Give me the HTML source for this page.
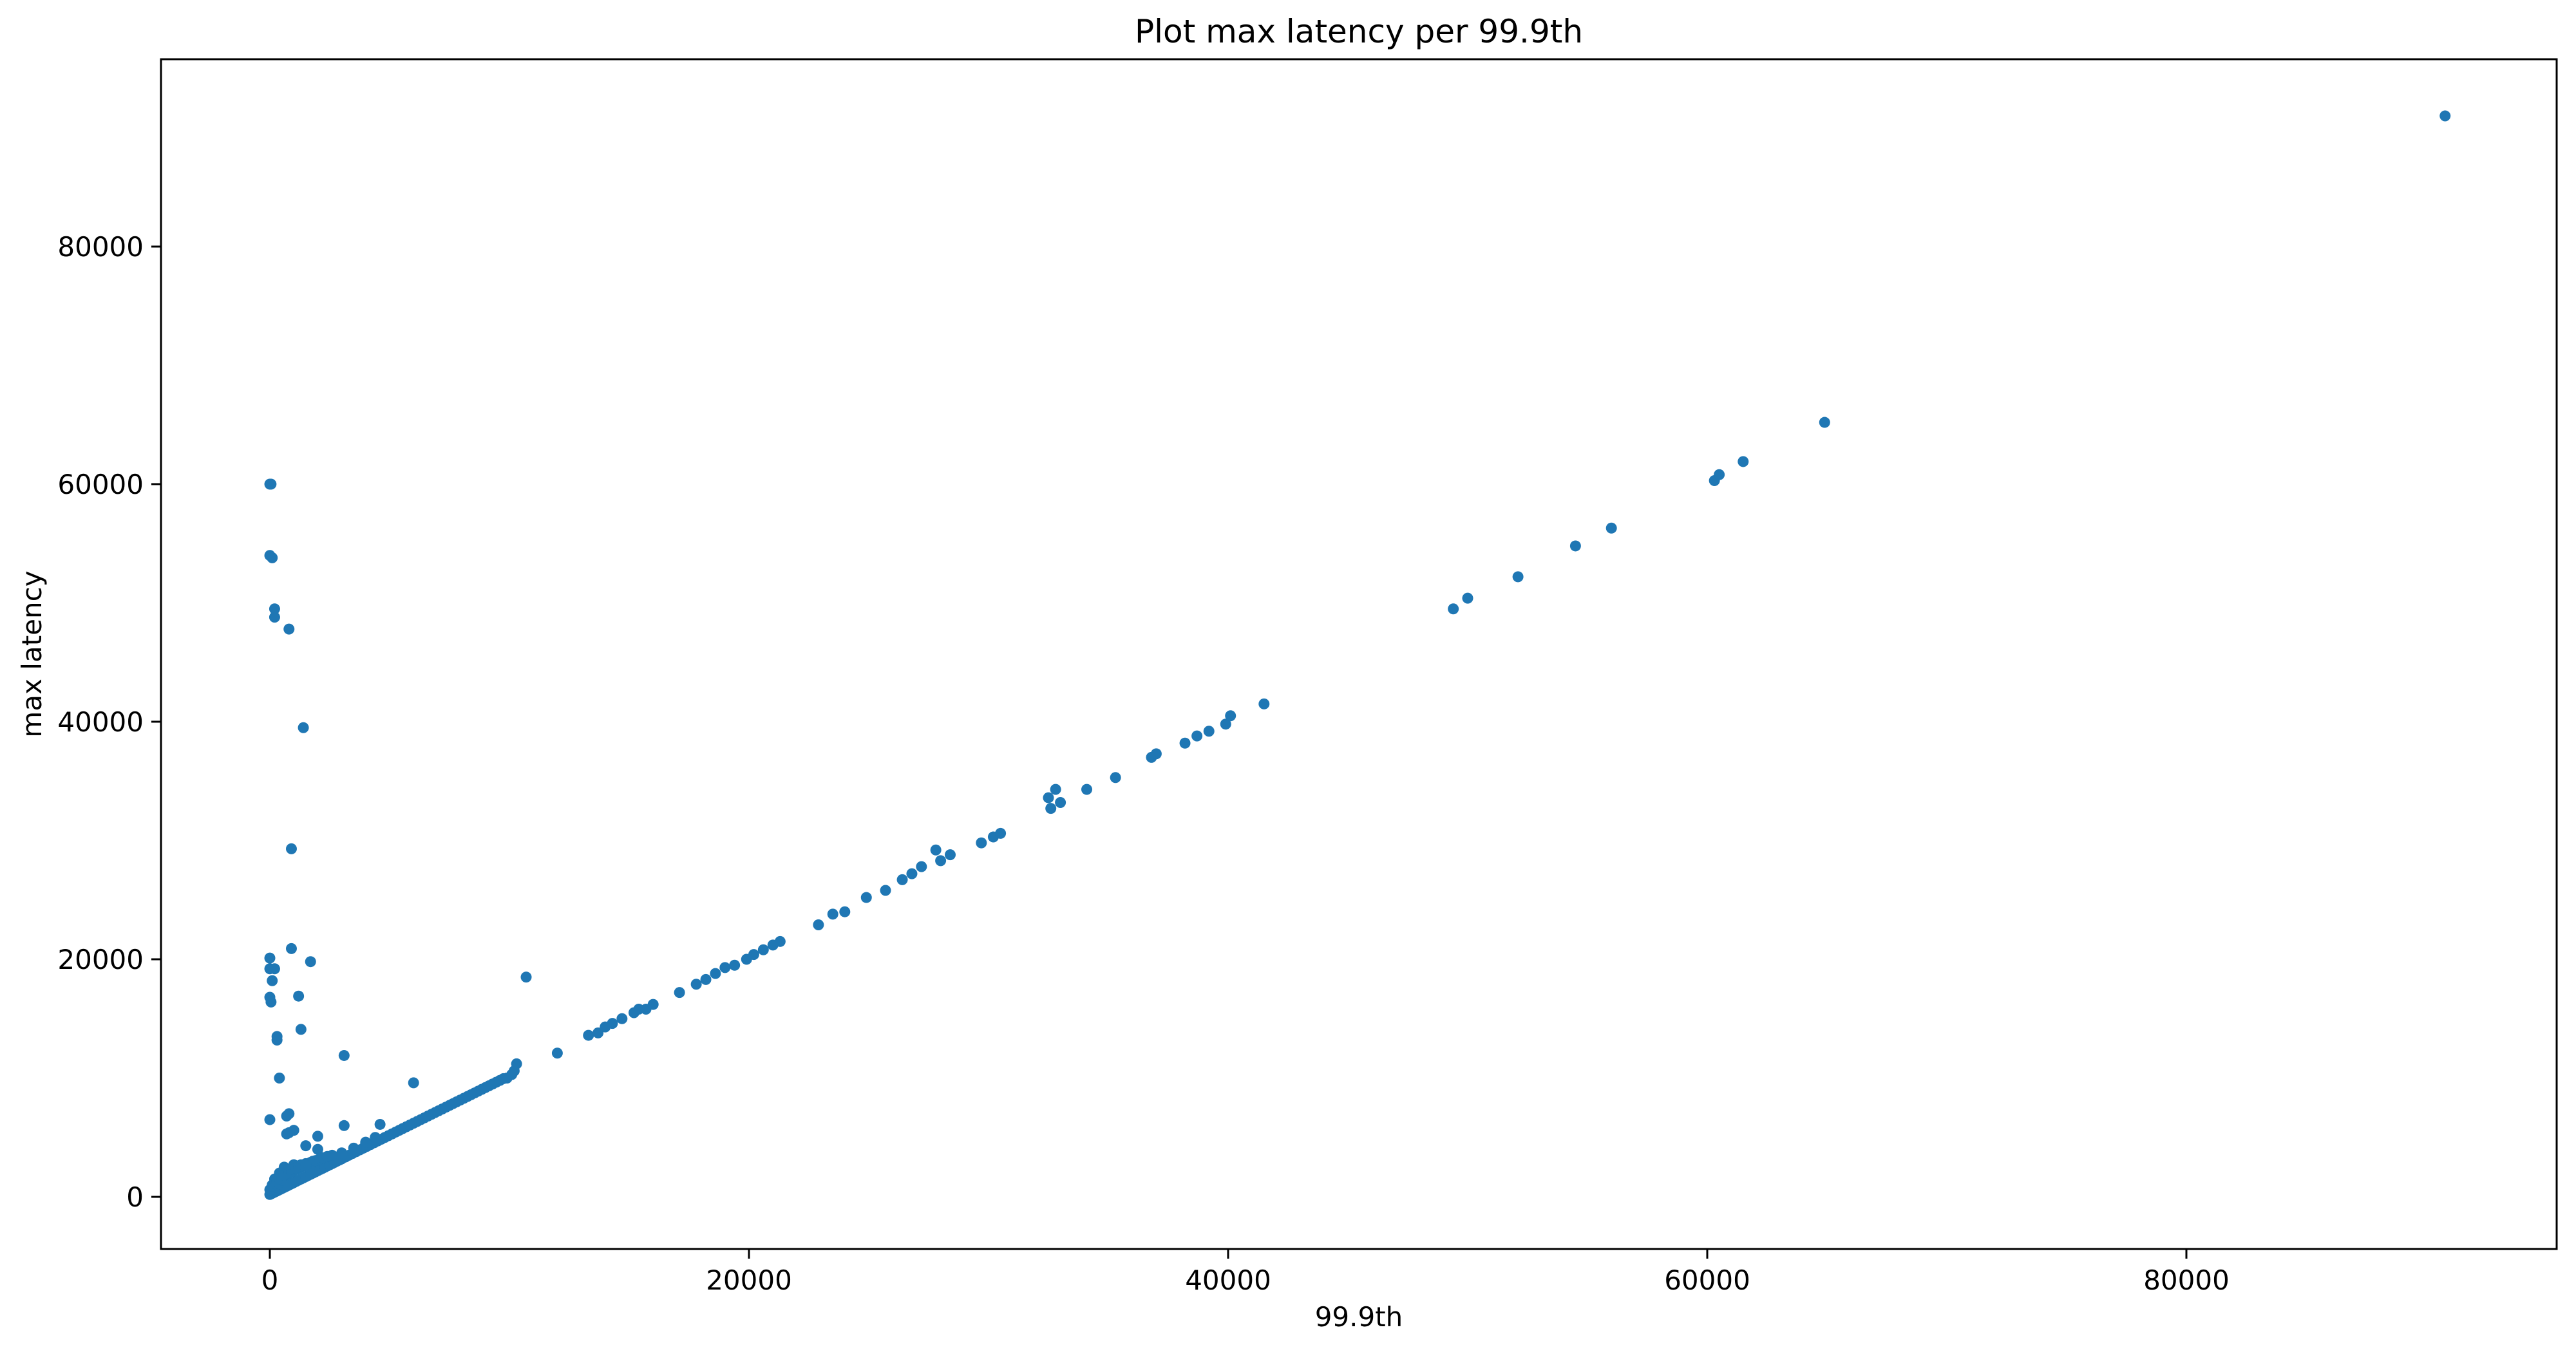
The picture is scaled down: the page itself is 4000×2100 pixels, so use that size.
<!DOCTYPE html>
<html><head><meta charset="utf-8"><style>
html,body{margin:0;padding:0;background:#fff;}
svg{display:block;font-family:"DejaVu Sans","Liberation Sans",sans-serif;}
</style></head><body>
<svg id="chart" width="4000" height="2100" viewBox="0 0 4000 2100" xmlns="http://www.w3.org/2000/svg">
<rect width="4000" height="2100" fill="#fff"/>
<text x="2110" y="66" font-size="50" text-anchor="middle">Plot max latency per 99.9th</text>
<g id="points"></g>
<g id="axes"></g>
<text x="2110" y="2060" font-size="42" text-anchor="middle">99.9th</text>
<text transform="translate(64,1016) rotate(-90)" font-size="42" text-anchor="middle">max latency</text>
</svg>
<script>
const xTicks = [0, 20000, 40000, 60000, 80000];
const yTicks = [0, 20000, 40000, 60000, 80000];
const xValues = [0,50,0,100,200,200,800,1400,900,0,0,200,900,1700,100,0,50,1200,1300,300,300,3100,400,6000,0,700,800,700,1000,800,3100,4600,2000,1500,2000,10700,12000,
0,100,200,300,400,500,600,700,800,900,1000,1200,1400,1600,1800,2000,2200,2400,2600,2800,3000,3300,3600,3900,4200,4500,4800,5100,5400,5700,6000,6300,6600,6900,7200,7500,7800,8100,8400,8700,9000,9300,9600,9900,10100,10200,10300,
200,400,600,800,1000,1200,1500,1800,2000,2300,2500,2800,100,300,500,700,900,1100,1300,1600,
50,150,250,350,450,550,650,750,850,950,1100,1300,1500,1700,1900,2100,2300,2500,2700,2900,3150,3450,3750,4050,4350,4650,4950,5250,5550,5850,6150,6450,6750,7050,7350,7650,7950,8250,8550,8850,9150,9450,9750,
100,200,300,400,500,600,700,800,900,1000,1100,1200,1300,1400,1500,1600,1700,1800,1900,2000,2100,2200,2400,2600,3000,3500,4000,4400,
0,100,200,300,400,500,600,700,800,900,1000,1100,1200,1300,1400,1500,
13300,13700,14000,14300,14700,15200,15400,15700,16000,17100,17800,18200,18600,19000,19400,19900,20200,20600,21000,21300,22900,23500,24000,24900,25700,26400,26800,27200,27800,28000,28400,29700,30200,30500,32500,32600,32800,33000,34100,35300,36800,37000,38200,38700,39200,39900,40100,41500,49400,50000,52100,54500,56000,60300,60500,61500,64900,90800];
const yValues = [60000,60000,54000,53800,49500,48800,47800,39500,29300,20100,19200,19200,20900,19800,18200,16800,16400,16900,14100,13500,13200,11900,10000,9600,6500,6800,7000,5300,5600,5400,6000,6100,5100,4300,4000,18500,12100,
200,300,400,500,600,700,800,900,1000,1100,1200,1400,1600,1800,2000,2200,2400,2600,2800,3000,3200,3500,3800,4100,4400,4700,5000,5300,5600,5900,6200,6500,6800,7100,7400,7700,8000,8300,8600,8900,9200,9500,9800,10000,10300,10600,11200,
1500,2000,2500,2200,2700,2500,2800,2900,3000,3000,3200,3300,1000,1200,1800,2300,2400,2600,2700,2800,
250,350,450,550,650,750,850,950,1050,1150,1300,1500,1700,1900,2100,2300,2500,2700,2900,3100,3350,3650,3950,4250,4550,4850,5150,5450,5750,6050,6350,6650,6950,7250,7550,7850,8150,8450,8750,9050,9350,9650,9950,
600,800,1000,1200,1400,1600,1800,2000,2100,2200,2300,2400,2500,2600,2700,2800,2900,3000,3050,3100,3200,3300,3400,3500,3700,4100,4600,5000,
600,900,1100,1300,1500,1600,1800,1900,2000,2100,2300,2400,2500,2600,2700,2700,
13600,13800,14300,14600,15000,15500,15800,15800,16200,17200,17900,18300,18800,19300,19500,20000,20400,20800,21200,21500,22900,23800,24000,25200,25800,26700,27200,27800,29200,28300,28800,29800,30300,30600,33600,32700,34300,33200,34300,35300,37000,37300,38200,38800,39200,39800,40500,41500,49500,50400,52200,54800,56300,60300,60800,61900,65200,91000];
const X0 = 419, XS = 744/20000, Y0 = 1859, YS = 1476/80000;
const L = 250, R = 3970, T = 92, B = 1940;
function sx(v){return X0 + v*XS;}
function sy(v){return Y0 - v*YS;}
const NS = 'http://www.w3.org/2000/svg';
const pg = document.getElementById('points');
for (let i=0;i<xValues.length;i++){
  const c = document.createElementNS(NS,'ellipse');
  c.setAttribute('cx', sx(xValues[i]));
  c.setAttribute('cy', sy(yValues[i]));
  c.setAttribute('rx', 8.5); c.setAttribute('ry', 8.5);
  c.setAttribute('fill', '#1f77b4');
  
  
  pg.appendChild(c);
}
const ag = document.getElementById('axes');
const frame = document.createElementNS(NS,'rect');
frame.setAttribute('x', L); frame.setAttribute('y', T);
frame.setAttribute('width', R-L); frame.setAttribute('height', B-T);
frame.setAttribute('fill','none'); frame.setAttribute('stroke','#000'); frame.setAttribute('stroke-width', 3);


ag.appendChild(frame);
xTicks.forEach(t=>{
  const x = sx(t);
  const ln = document.createElementNS(NS,'line');
  ln.setAttribute('x1',x); ln.setAttribute('x2',x); ln.setAttribute('y1',B); ln.setAttribute('y2',B+15);
  ln.setAttribute('stroke','#000'); ln.setAttribute('stroke-width',3);
  
  
  ag.appendChild(ln);
  const tx = document.createElementNS(NS,'text');
  tx.setAttribute('x',x); tx.setAttribute('y',2003); tx.setAttribute('font-size',42); tx.setAttribute('text-anchor','middle');
  tx.textContent = t;
  
  
  ag.appendChild(tx);
});
yTicks.forEach(t=>{
  const y = sy(t);
  const ln = document.createElementNS(NS,'line');
  ln.setAttribute('x1',L-15); ln.setAttribute('x2',L); ln.setAttribute('y1',y); ln.setAttribute('y2',y);
  ln.setAttribute('stroke','#000'); ln.setAttribute('stroke-width',3);
  
  
  ag.appendChild(ln);
  const tx = document.createElementNS(NS,'text');
  tx.setAttribute('x',223); tx.setAttribute('y',y+15); tx.setAttribute('font-size',42); tx.setAttribute('text-anchor','end');
  tx.textContent = t;
  
  
  ag.appendChild(tx);
});
</script>
</body></html>
